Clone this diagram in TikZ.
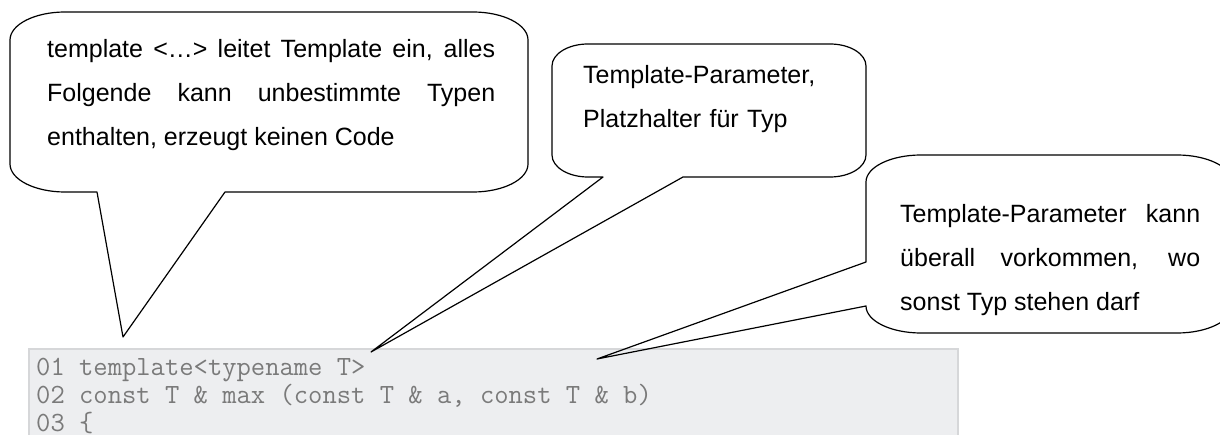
\documentclass[tikz,border=0pt]{standalone}
\usepackage{fontspec}
\setmainfont{Liberation Sans}
\usepackage{xcolor}
\definecolor{codebg}{HTML}{EDEEF0}
\definecolor{codeframe}{HTML}{D6D7D9}
\definecolor{codegray}{HTML}{7A7A7A}
\tolerance=10000
\hyphenpenalty=10000
\exhyphenpenalty=10000

\begin{document}
\begin{tikzpicture}[x=1pt,y=-1pt]
	\tikzset{
		bubble/.style={draw=black,line width=1.2pt,line join=round},
		bubbletext/.style={anchor=base west,inner sep=0pt,font=\fontsize{25}{44}\selectfont},
		codetxt/.style={anchor=base west,inner sep=0pt,text=codegray,font=\ttfamily\fontsize{27.8}{28}\selectfont}
	}
	\useasboundingbox (0,0) rectangle (1220,435);
	\clip (0,0) rectangle (1220,435);
	
	% code listing
	\draw[codeframe,line width=1.2pt,fill=codebg] (29,349) rectangle (958,450);
	\node[codetxt] (l1) at (36,375) {01 template<typename T>};
	\node[codetxt] (l2) at (36,403) {02 const T \& max (const T \& a, const T \& b)};
	\node[codetxt] (l3) at (36,431) {03 \{};
	
	% tips of the callouts
	\coordinate (tipA) at (123,337);
	\coordinate (tipB) at (371,352);
	\coordinate (tipC) at (597,359);
	
	\draw[bubble] (10,40) arc[start angle=180,end angle=270,x radius=55,y radius=28]
		-- (473,12) arc[start angle=270,end angle=360,x radius=55,y radius=28]
		-- (528,164) arc[start angle=0,end angle=90,x radius=55,y radius=28]
		-- (225,192) -- (tipA) -- (97,192)
		-- (65,192) arc[start angle=90,end angle=180,x radius=55,y radius=28]
		-- cycle;
	\node[bubbletext,text width=448pt,align=justify] (noteA) at (47,58)
		{template <…> leitet Template ein, alles\linebreak Folgende kann unbestimmte Typen\linebreak enthalten, erzeugt keinen Code};
	
	\draw[bubble] (552,66) arc[start angle=180,end angle=270,x radius=36,y radius=22]
		-- (830,44) arc[start angle=270,end angle=360,x radius=36,y radius=22]
		-- (866,155) arc[start angle=0,end angle=90,x radius=36,y radius=22]
		-- (683,177) -- (tipB) -- (603,177)
		-- (588,177) arc[start angle=90,end angle=180,x radius=36,y radius=22]
		-- cycle;
	\node[bubbletext,text width=260pt,align=left] (noteB) at (583,84)
		{Template-Parameter,\\ Platzhalter für Typ};
	
	\draw[bubble] (866,182) arc[start angle=180,end angle=270,x radius=55,y radius=27]
		-- (1177,155) arc[start angle=270,end angle=360,x radius=55,y radius=27]
		-- (1232,306) arc[start angle=0,end angle=90,x radius=55,y radius=27]
		-- (921,333) arc[start angle=90,end angle=180,x radius=55,y radius=27]
		-- (tipC) -- (866,262) -- cycle;
	\node[bubbletext,text width=300pt,align=justify] (noteC) at (900,223)
		{Template-Parameter kann\linebreak überall vorkommen, wo\linebreak sonst Typ stehen darf};
	
\end{tikzpicture}
\end{document}
